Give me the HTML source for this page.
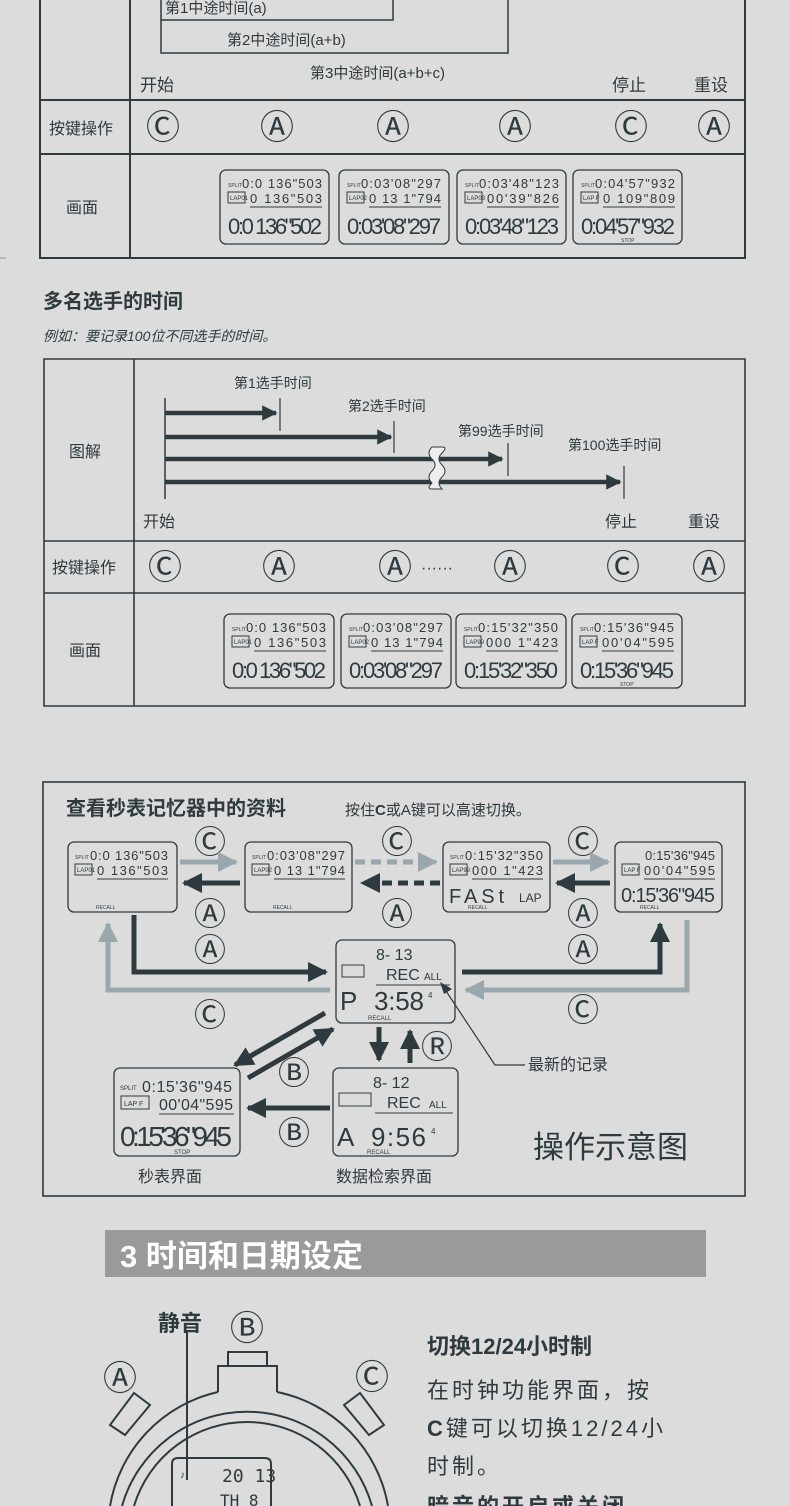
<!DOCTYPE html>
<html><head><meta charset="utf-8">
<style>
html,body{margin:0;padding:0;background:#dcdcdc;}
svg{display:block;}
text{font-family:"Liberation Sans","Noto Sans CJK SC",sans-serif;fill:#2f3a3e;}
.m{font-family:"DejaVu Sans Mono","Liberation Mono",monospace;}
.c{font-family:"DejaVu Sans","Noto Sans CJK SC",sans-serif;}
</style></head><body>
<svg width="790" height="1506" viewBox="0 0 790 1506" xmlns="http://www.w3.org/2000/svg">
<defs>
<marker id="ah" viewBox="0 0 10 10" refX="9" refY="5" markerWidth="4" markerHeight="4" orient="auto"><path d="M0,0 L10,5 L0,10z" fill="#2f3a3e"/></marker>
<marker id="ahl" viewBox="0 0 10 10" refX="9" refY="5" markerWidth="4" markerHeight="4" orient="auto"><path d="M0,0 L10,5 L0,10z" fill="#9aa8ad"/></marker>
<marker id="ah2" viewBox="0 0 10 10" refX="9" refY="5" markerWidth="5" markerHeight="3.4" orient="auto"><path d="M0,0 L10,5 L0,10z" fill="#2f3a3e"/></marker>
</defs>
<rect width="790" height="1506" fill="#dcdcdc"/>
<g fill="none" stroke="#2f3a3e">
<path d="M40,0 V258 H745 V0 M130,0 V258 M40,100 H745 M40,154 H745" stroke-width="2"/>
<path d="M161,0 V53 H508 V0 M161,20 H393 V0" stroke-width="1.5"/>
<path d="M0,258 H6" stroke-width="1" stroke="#999"/>
<path d="M44,359 H745 V706 H44 Z M134,359 V706 M44,541 H745 M44,593 H745" stroke-width="1.6"/>
<rect x="43" y="782" width="702" height="414" stroke-width="1.6"/>
</g>
<g font-size="15">
<text x="165" y="13">第1中途时间(a)</text>
<text x="227" y="45">第2中途时间(a+b)</text>
<text x="310" y="78">第3中途时间(a+b+c)</text>
<text x="140" y="91" font-size="17">开始</text>
<text x="612" y="91" font-size="17">停止</text>
<text x="694" y="91" font-size="17">重设</text>
<text x="49" y="134" font-size="16">按键操作</text>
<text x="66" y="213" font-size="16">画面</text>
</g>
<g font-size="34" class="c" text-anchor="middle">
<text x="163" y="139">Ⓒ</text><text x="277" y="139">Ⓐ</text><text x="393" y="139">Ⓐ</text><text x="515" y="139">Ⓐ</text><text x="631" y="139">Ⓒ</text><text x="714" y="139">Ⓐ</text>
</g>

<text x="43" y="308" font-size="20" font-weight="bold">多名选手的时间</text>
<text x="43" y="341" font-size="14" font-style="italic">例如：要记录100位不同选手的时间。</text>
<text x="69" y="457" font-size="16">图解</text>
<g stroke="#2f3a3e" fill="none">
<path d="M165,398 V499" stroke-width="1.5"/>
<path d="M280,398 V431 M394,421 V453 M508,443 V476 M624,466 V499" stroke-width="1.2"/>
<g stroke-width="4.5" marker-end="url(#ah2)">
<path d="M165,413 H276"/><path d="M165,437 H391"/><path d="M165,459 H502"/><path d="M165,482 H620"/>
</g>
</g>
<path d="M432,447 q-6,6 0,12 q6,6 0,12 q-6,6 0,12 q-6,6 0,6 H442 q-6,-6 0,-12 q6,-6 0,-12 q-6,-6 0,-12 q6,-6 0,-6 z" fill="#eee" stroke="#2f3a3e" stroke-width="1"/>
<g font-size="14">
<text x="234" y="388">第1选手时间</text><text x="348" y="411">第2选手时间</text><text x="458" y="436">第99选手时间</text><text x="568" y="450">第100选手时间</text>
<text x="143" y="527" font-size="16">开始</text><text x="605" y="527" font-size="16">停止</text><text x="688" y="527" font-size="16">重设</text>
<text x="52" y="573" font-size="16">按键操作</text><text x="69" y="656" font-size="16">画面</text>
</g>
<g font-size="34" class="c" text-anchor="middle">
<text x="165" y="579">Ⓒ</text><text x="279" y="579">Ⓐ</text><text x="395" y="579">Ⓐ</text><text x="510" y="579">Ⓐ</text><text x="623" y="579">Ⓒ</text><text x="709" y="579">Ⓐ</text>
</g>
<text x="421" y="573" font-size="16">······</text>

<g fill="none" stroke="#2f3a3e" stroke-width="1.3">
<rect x="220" y="170" width="109" height="74" rx="6"/><rect x="339" y="170" width="110" height="74" rx="6"/><rect x="457" y="170" width="109" height="74" rx="6"/><rect x="573" y="170" width="109" height="74" rx="6"/>
<rect x="224" y="614" width="110" height="74" rx="6"/><rect x="341" y="614" width="110" height="74" rx="6"/><rect x="456" y="614" width="110" height="74" rx="6"/><rect x="572" y="614" width="110" height="74" rx="6"/>
<rect x="68" y="842" width="109" height="70" rx="6"/><rect x="245" y="842" width="107" height="70" rx="6"/><rect x="443" y="842" width="107" height="70" rx="6"/><rect x="615" y="842" width="107" height="70" rx="6"/>
<rect x="336" y="940" width="119" height="83" rx="6"/><rect x="114" y="1068" width="126" height="88" rx="6"/><rect x="333" y="1068" width="125" height="88" rx="6"/>
</g>
<g class="m" fill="#2f3a3e">
<g transform="translate(220,170)"><text x="8" y="17" font-size="5">SPLIT</text><text x="22" y="18" font-size="13" textLength="80">0:0 136"503</text><rect x="8" y="22" width="17" height="11" fill="none" stroke="#2f3a3e"/><text x="10" y="30" font-size="6">LAP01</text><text x="30" y="33" font-size="13" textLength="72">0 136"503</text><path d="M30,37H102" stroke="#2f3a3e"/><text x="8" y="64" font-size="22" textLength="94">0:0 136"502</text></g>
<g transform="translate(339,170)"><text x="8" y="17" font-size="5">SPLIT</text><text x="22" y="18" font-size="13" textLength="80">0:03'08"297</text><rect x="8" y="22" width="17" height="11" fill="none" stroke="#2f3a3e"/><text x="10" y="30" font-size="6">LAP02</text><text x="30" y="33" font-size="13" textLength="72">0 13 1"794</text><path d="M30,37H102" stroke="#2f3a3e"/><text x="8" y="64" font-size="22" textLength="94">0:03'08"297</text></g>
<g transform="translate(457,170)"><text x="8" y="17" font-size="5">SPLIT</text><text x="22" y="18" font-size="13" textLength="80">0:03'48"123</text><rect x="8" y="22" width="17" height="11" fill="none" stroke="#2f3a3e"/><text x="10" y="30" font-size="6">LAP03</text><text x="30" y="33" font-size="13" textLength="72">00'39"826</text><path d="M30,37H102" stroke="#2f3a3e"/><text x="8" y="64" font-size="22" textLength="94">0:03'48"123</text></g>
<g transform="translate(573,170)"><text x="8" y="17" font-size="5">SPLIT</text><text x="22" y="18" font-size="13" textLength="80">0:04'57"932</text><rect x="8" y="22" width="17" height="11" fill="none" stroke="#2f3a3e"/><text x="10" y="30" font-size="6">LAP F</text><text x="30" y="33" font-size="13" textLength="72">0 109"809</text><path d="M30,37H102" stroke="#2f3a3e"/><text x="8" y="64" font-size="22" textLength="94">0:04'57"932</text><text x="48" y="72" font-size="5">STOP</text></g>
<g transform="translate(224,614)"><text x="8" y="17" font-size="5">SPLIT</text><text x="22" y="18" font-size="13" textLength="80">0:0 136"503</text><rect x="8" y="22" width="17" height="11" fill="none" stroke="#2f3a3e"/><text x="10" y="30" font-size="6">LAP01</text><text x="30" y="33" font-size="13" textLength="72">0 136"503</text><path d="M30,37H102" stroke="#2f3a3e"/><text x="8" y="64" font-size="22" textLength="94">0:0 136"502</text></g>
<g transform="translate(341,614)"><text x="8" y="17" font-size="5">SPLIT</text><text x="22" y="18" font-size="13" textLength="80">0:03'08"297</text><rect x="8" y="22" width="17" height="11" fill="none" stroke="#2f3a3e"/><text x="10" y="30" font-size="6">LAP02</text><text x="30" y="33" font-size="13" textLength="72">0 13 1"794</text><path d="M30,37H102" stroke="#2f3a3e"/><text x="8" y="64" font-size="22" textLength="94">0:03'08"297</text></g>
<g transform="translate(456,614)"><text x="8" y="17" font-size="5">SPLIT</text><text x="22" y="18" font-size="13" textLength="80">0:15'32"350</text><rect x="8" y="22" width="17" height="11" fill="none" stroke="#2f3a3e"/><text x="10" y="30" font-size="6">LAP99</text><text x="30" y="33" font-size="13" textLength="72">000 1"423</text><path d="M30,37H102" stroke="#2f3a3e"/><text x="8" y="64" font-size="22" textLength="94">0:15'32"350</text></g>
<g transform="translate(572,614)"><text x="8" y="17" font-size="5">SPLIT</text><text x="22" y="18" font-size="13" textLength="80">0:15'36"945</text><rect x="8" y="22" width="17" height="11" fill="none" stroke="#2f3a3e"/><text x="10" y="30" font-size="6">LAP F</text><text x="30" y="33" font-size="13" textLength="72">00'04"595</text><path d="M30,37H102" stroke="#2f3a3e"/><text x="8" y="64" font-size="22" textLength="94">0:15'36"945</text><text x="48" y="72" font-size="5">STOP</text></g>
<g transform="translate(68,842)"><text x="7" y="17" font-size="5">SPLIT</text><text x="22" y="18" font-size="13" textLength="78">0:0 136"503</text><rect x="7" y="22" width="17" height="11" fill="none" stroke="#2f3a3e"/><text x="9" y="30" font-size="6">LAP01</text><text x="29" y="33" font-size="13" textLength="71">0 136"503</text><path d="M29,37H100" stroke="#2f3a3e"/><text x="28" y="67" font-size="5">RECALL</text></g>
<g transform="translate(245,842)"><text x="7" y="17" font-size="5">SPLIT</text><text x="22" y="18" font-size="13" textLength="78">0:03'08"297</text><rect x="7" y="22" width="17" height="11" fill="none" stroke="#2f3a3e"/><text x="9" y="30" font-size="6">LAP02</text><text x="29" y="33" font-size="13" textLength="71">0 13 1"794</text><path d="M29,37H100" stroke="#2f3a3e"/><text x="28" y="67" font-size="5">RECALL</text></g>
<g transform="translate(443,842)"><text x="7" y="17" font-size="5">SPLIT</text><text x="22" y="18" font-size="13" textLength="78">0:15'32"350</text><rect x="7" y="22" width="17" height="11" fill="none" stroke="#2f3a3e"/><text x="9" y="30" font-size="6">LAP99</text><text x="29" y="33" font-size="13" textLength="71">000 1"423</text><path d="M29,37H100" stroke="#2f3a3e"/><text x="6" y="61" font-size="20" textLength="55">FASt</text><text x="76" y="60" font-size="12">LAP</text><text x="25" y="67" font-size="5">RECALL</text></g>
<g transform="translate(615,842)"><text x="30" y="18" font-size="13" textLength="70">0:15'36"945</text><rect x="7" y="22" width="17" height="11" fill="none" stroke="#2f3a3e"/><text x="9" y="30" font-size="6">LAP F</text><text x="29" y="33" font-size="13" textLength="71">00'04"595</text><path d="M29,37H100" stroke="#2f3a3e"/><text x="6" y="60" font-size="20" textLength="94">0:15'36"945</text><text x="25" y="67" font-size="5">RECALL</text></g>
<g transform="translate(336,940)"><text x="40" y="20" font-size="16">8- 13</text><rect x="6" y="25" width="22" height="12" fill="none" stroke="#2f3a3e"/><text x="50" y="40" font-size="16">REC</text><text x="88" y="40" font-size="10">ALL</text><path d="M40,45H114" stroke="#2f3a3e"/><text x="4" y="70" font-size="26">P</text><text x="38" y="70" font-size="26" textLength="50">3:58</text><text x="92" y="58" font-size="8">4</text><text x="32" y="80" font-size="6">RECALL</text></g>
<g transform="translate(114,1068)"><text x="6" y="22" font-size="6">SPLIT</text><text x="28" y="24" font-size="16" textLength="90">0:15'36"945</text><rect x="7" y="28" width="28" height="13" fill="none" stroke="#2f3a3e"/><text x="10" y="38" font-size="7">LAP F</text><text x="45" y="42" font-size="16" textLength="74">00'04"595</text><path d="M45,46H120" stroke="#2f3a3e"/><text x="6" y="78" font-size="28" textLength="112">0:15'36"945</text><text x="60" y="86" font-size="6">STOP</text></g>
<g transform="translate(333,1068)"><text x="40" y="20" font-size="16">8- 12</text><rect x="6" y="25" width="32" height="13" fill="none" stroke="#2f3a3e"/><text x="54" y="40" font-size="16">REC</text><text x="96" y="40" font-size="10">ALL</text><path d="M42,45H120" stroke="#2f3a3e"/><text x="4" y="78" font-size="26">A</text><text x="38" y="78" font-size="26" textLength="55">9:56</text><text x="98" y="66" font-size="8">4</text><text x="34" y="86" font-size="6">RECALL</text></g>
</g>

<text x="66" y="815" font-size="20" font-weight="bold">查看秒表记忆器中的资料</text>
<text x="345" y="815" font-size="15">按住<tspan font-weight="bold">C</tspan>或A键可以高速切换。</text>
<g font-size="32" class="c" text-anchor="middle">
<text x="210" y="853">Ⓒ</text><text x="397" y="853">Ⓒ</text><text x="583" y="853">Ⓒ</text>
<text x="210" y="925">Ⓐ</text><text x="397" y="925">Ⓐ</text><text x="583" y="925">Ⓐ</text>
<text x="210" y="961">Ⓐ</text><text x="583" y="961">Ⓐ</text>
<text x="210" y="1026">Ⓒ</text><text x="583" y="1021">Ⓒ</text>
<text x="437" y="1058">Ⓡ</text><text x="294" y="1084">Ⓑ</text><text x="294" y="1144">Ⓑ</text>
</g>
<g fill="none" stroke-width="5">
<g stroke="#9aa8ad" marker-end="url(#ahl)">
<path d="M180,862 H236"/><path d="M553,862 H608"/><path d="M330,990 H108 V924"/><path d="M687,920 V990 H466"/>
</g>
<path d="M355,862 H436" stroke="#9aa8ad" stroke-dasharray="10,6" marker-end="url(#ahl)"/>
<g stroke="#2f3a3e" marker-end="url(#ah)">
<path d="M240,883 H184"/><path d="M610,883 H557"/><path d="M134,915 V972 H326"/><path d="M462,972 H660 V924"/>
<path d="M379,1027 V1060"/><path d="M410,1063 V1031"/>
<path d="M325,1013 L235,1065"/><path d="M248,1078 L333,1029"/><path d="M330,1108 H248"/>
</g>
<path d="M440,883 H362" stroke="#2f3a3e" stroke-dasharray="10,6" marker-end="url(#ah)"/>
</g>
<path d="M525,1065 H495 L444,988" fill="none" stroke="#2f3a3e" stroke-width="1.2"/>
<path d="M440,982 L452,989 L444,994z" fill="#2f3a3e"/>
<text x="528" y="1070" font-size="16">最新的记录</text>
<text x="138" y="1182" font-size="16">秒表界面</text>
<text x="336" y="1182" font-size="16">数据检索界面</text>
<text x="533" y="1158" font-size="31">操作示意图</text>

<rect x="105" y="1230" width="601" height="47" fill="#9a9a9a"/>
<text x="120" y="1267" font-size="31" font-weight="bold" style="fill:#fff">3 时间和日期设定</text>
<text x="158" y="1331" font-size="22" font-weight="bold">静音</text>
<g font-size="34" class="c" text-anchor="middle"><text x="247" y="1340">Ⓑ</text><text x="120" y="1390">Ⓐ</text><text x="372" y="1389">Ⓒ</text></g>
<g fill="none" stroke="#2f3a3e" stroke-width="2">
<rect x="228" y="1352" width="39" height="14"/><path d="M218,1392 V1366 H277 V1392"/>
<path d="M110,1506 A141,141 0 0 1 218,1392 M277,1392 A141,141 0 0 1 388,1506"/>
<path d="M122,1506 A130,130 0 0 1 372,1506"/>
<path d="M134,1506 A118,118 0 0 1 360,1506"/>
<path d="M150,1405 L125,1435 L110,1425 L134,1393 Z"/><path d="M344,1405 L369,1435 L384,1425 L360,1393 Z"/>
<path d="M187,1330 V1480"/>
<path d="M172,1506 V1464 Q172,1458 178,1458 H265 Q271,1458 271,1464 V1506"/>
</g>
<text x="180" y="1478" font-size="10">♪</text><text x="222" y="1482" font-size="18" class="m">20 13</text><text x="220" y="1506" font-size="16" class="m">TH 8</text>
<text x="427" y="1354" font-size="22" font-weight="bold">切换12/24小时制</text>
<g font-size="22" letter-spacing="3">
<text x="427" y="1398">在时钟功能界面，按</text>
<text x="427" y="1436"><tspan font-weight="bold">C</tspan>键可以切换12/24小</text>
<text x="427" y="1474">时制。</text>
<text x="427" y="1514" font-weight="bold">暗音的开启或关闭</text>
</g>
</svg>
</body></html>
